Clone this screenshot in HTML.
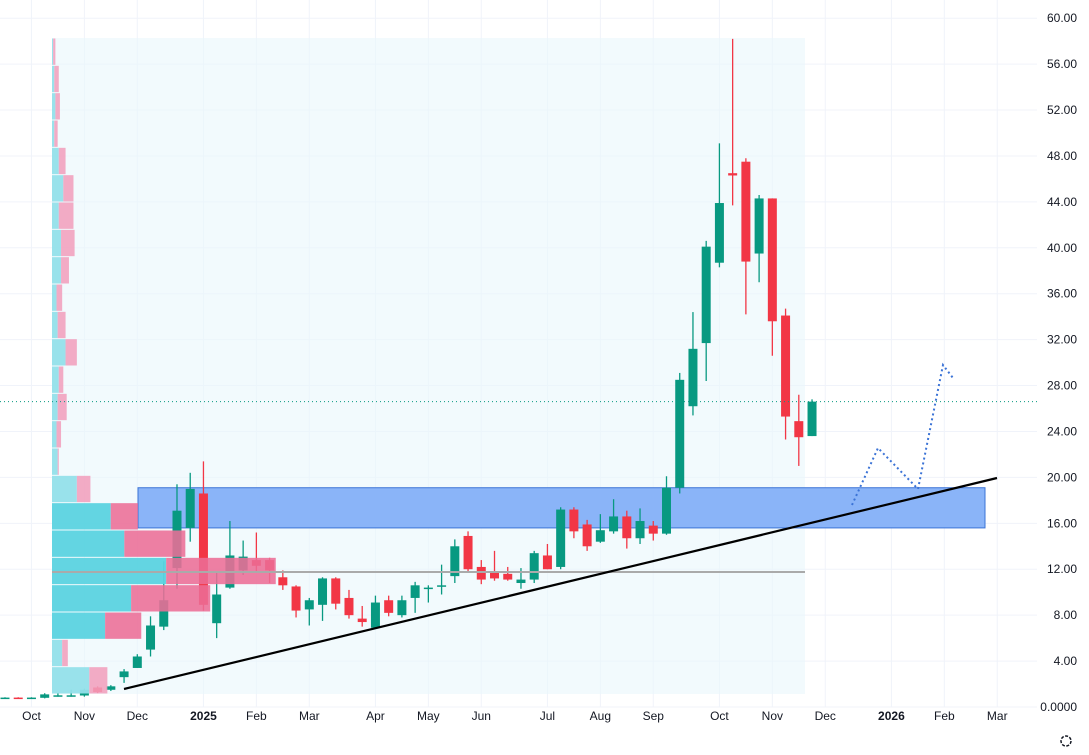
<!DOCTYPE html>
<html><head><meta charset="utf-8"><style>
body{margin:0;background:#fff;font-family:"Liberation Sans",sans-serif}
svg{display:block}
</style></head><body>
<svg id="c" width="1089" height="755" xmlns="http://www.w3.org/2000/svg"></svg>
<script>
const opens=[0.78,0.82,0.78,0.8,1.0,1.0,1.0,1.7,1.5,2.6,3.4,5.0,7.0,12.1,15.6,18.6,7.3,10.4,11.9,12.8,12.8,11.3,10.5,8.5,8.9,11.2,9.5,7.7,6.9,9.3,8.0,9.5,10.3,10.5,11.4,14.9,12.2,11.7,11.6,10.8,11.1,13.2,12.2,17.2,15.9,14.4,15.3,16.6,14.7,15.8,15.1,19.1,26.2,31.7,38.7,46.5,47.5,39.5,44.3,34.1,24.9,23.6];
const closes=[0.82,0.78,0.82,1.1,1.02,1.02,1.5,1.3,1.8,3.1,4.4,7.1,9.3,17.1,19.0,8.9,9.8,13.2,13.1,12.3,11.9,10.6,8.4,9.3,11.2,9.0,8.0,7.4,9.1,8.2,9.3,10.6,10.4,10.6,14.0,12.0,11.1,11.2,11.1,11.1,13.4,12.0,17.2,15.3,14.0,15.4,16.6,14.7,16.2,15.1,19.1,28.5,31.2,40.1,43.9,46.3,38.8,44.3,33.6,25.3,23.5,26.6];
const highs=[0.85,0.85,0.85,1.2,1.2,1.5,1.6,1.8,1.9,3.3,4.6,7.9,12.7,19.4,20.4,21.4,11.7,16.2,14.5,15.2,13.0,11.9,10.6,9.5,11.3,11.3,10.2,8.8,9.7,9.7,9.7,10.9,10.6,12.4,14.6,15.3,12.8,13.6,12.2,12.1,13.6,14.2,17.4,17.4,16.3,16.8,18.1,17.1,17.3,16.2,20.1,29.1,34.4,40.6,49.1,58.2,47.8,44.6,44.3,34.7,27.2,26.8];
const lows=[0.75,0.75,0.75,0.75,0.9,0.9,0.9,1.2,1.4,2.1,3.4,4.4,6.7,10.3,14.4,8.4,6.0,10.3,11.5,11.8,10.8,10.2,7.8,7.1,7.5,8.5,7.7,7.0,6.8,7.9,7.8,8.2,9.1,9.8,10.8,11.8,10.7,11.0,11.0,10.3,10.8,12.0,12.0,14.7,13.6,14.3,15.1,13.8,14.2,14.5,15.0,18.6,25.4,28.4,38.3,43.7,34.2,37.0,30.6,23.3,21.0,23.6];
const yTicks=[0,4,8,12,16,20,24,28,32,36,40,44,48,52,56,60];
const monthLabels=["Oct","Nov","Dec","2025","Feb","Mar","Apr","May","Jun","Jul","Aug","Sep","Oct","Nov","Dec","2026","Feb","Mar"];
const monthWeeks=[2,6,10,15,19,23,28,32,36,41,45,49,54,58,62,67,71,75];
const profUp=[3.3,0.9,4.7,7.0,10.1,6.4,5.2,2.2,0.5,0.4,0.5,0.6,1.2,0.5,0.4,0.8,0.8,0.6,1.0,0.6,0.2,0.3,0.2,0.1];
const profDown=[1.6,0.5,3.2,7.0,9.7,5.4,2.4,1.2,0.1,0.4,0.8,0.4,1.0,0.7,0.5,0.7,1.2,1.3,0.9,0.6,0.3,0.4,0.4,0.2];
const lastPrice=26.6;
const S="http://www.w3.org/2000/svg";
const svg=document.getElementById('c');
const y=v=>707-v*11.48;
const x=i=>5+i*13.23;
function el(t,a,p){const e=document.createElementNS(S,t);for(const k in a)e.setAttribute(k,a[k]);(p||svg).appendChild(e);return e;}
yTicks.forEach(v=>{const g=el('line',{x1:0,x2:1037,y1:y(v),y2:y(v),stroke:'#f0f3fa'});

});
monthWeeks.forEach(w=>{const g=el('line',{x1:x(w),x2:x(w),y1:0,y2:707,stroke:'#f0f3fa'});

});
const va=el('rect',{x:52,y:38,width:753,height:656,fill:'#e9f7fc',opacity:0.6});


const z=el('rect',{x:138,y:y(19.1),width:847,height:y(15.6)-y(19.1),fill:'#8ab4f8',stroke:'#3b73d6','stroke-width':1});


opens.forEach((o,i)=>{const c=closes[i],up=c>=o,col=up?'#089981':'#f23645';
const g=el('g',{});


el('line',{x1:x(i),x2:x(i),y1:y(highs[i]),y2:y(lows[i]),stroke:col,'stroke-width':1.3},g);
const t=y(Math.max(o,c)),h=Math.max(1.5,Math.abs(y(o)-y(c)));
el('rect',{x:x(i)-4.5,y:t,width:9,height:h,fill:col},g);});
const rowH=656/24;
profUp.forEach((u,r)=>{const inVA=r>=2&&r<=6;const top=694-(r+1)*rowH;const sc=11.3;
const a=el('rect',{x:52,y:top+0.5,width:u*sc,height:rowH-1,fill:inVA?'#5bd3e0':'#93e0ea',opacity:0.95});


const b=el('rect',{x:52+u*sc,y:top+0.5,width:profDown[r]*sc,height:rowH-1,fill:inVA?'#ec6d96':'#f19fbd',opacity:0.88});

});
const poc=el('line',{x1:52,x2:805,y1:572,y2:572,stroke:'#aaa','stroke-width':2});


const tl=el('line',{x1:124,y1:689,x2:997,y2:478,stroke:'#000','stroke-width':2.2});


const pr=el('polyline',{points:'852,505 878,448 918,489 943,365 953,378',fill:'none',stroke:'#3b73d6','stroke-width':2,'stroke-dasharray':'2 3'});


const lp=el('line',{x1:0,x2:1037,y1:y(lastPrice),y2:y(lastPrice),stroke:'#089981','stroke-dasharray':'1 3'});


yTicks.forEach(v=>{const t=el('text',{x:1077,y:y(v)+4,'text-anchor':'end','font-size':12,fill:'#131722'});t.textContent=v.toFixed(2)+(v===0?'00':'');

});
monthLabels.forEach((m,k)=>{const t=el('text',{x:x(monthWeeks[k]),y:720,'text-anchor':'middle','font-size':12,fill:'#131722','font-weight':m.length===4?'bold':'normal'});t.textContent=m;

});
const gear=el('circle',{cx:1066,cy:741,r:5,fill:'none',stroke:'#131722','stroke-width':1.5,'stroke-dasharray':'3 1.5'});


</script>
</body></html>
